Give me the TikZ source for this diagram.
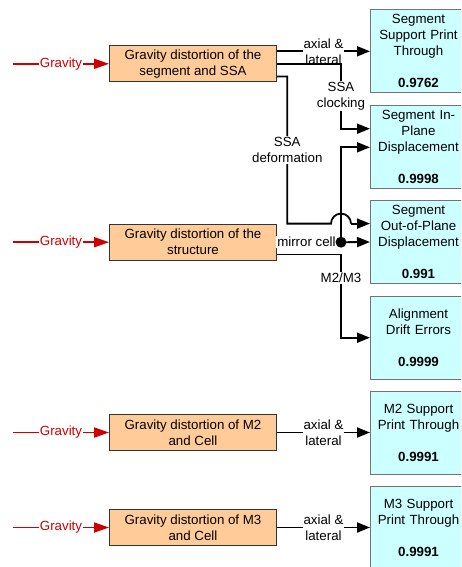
\documentclass[tikz,border=0pt]{standalone}
\usepackage{fontspec}
\setmainfont{Liberation Sans}
\usetikzlibrary{arrows.meta,calc}
\definecolor{causefill}{RGB}{255,204,153}
\definecolor{effectfill}{RGB}{204,255,255}
\definecolor{gravred}{RGB}{204,0,0}
\begin{document}
\begin{tikzpicture}[x=1pt,y=-1pt,
  txt/.style={font=\fontsize{13.3}{16}\selectfont},
  cause/.style={txt,draw=black!80,line width=1pt,fill=causefill,minimum width=167,minimum height=36,inner sep=0,align=center,anchor=north west},
  effect/.style={txt,draw=black!55,line width=1pt,fill=effectfill,minimum width=96,minimum height=83,text width=94,inner sep=0,align=center,anchor=north west},
  conn/.style={line width=1.8pt,-{Triangle[length=13pt,width=10pt]}},
  plain/.style={line width=1.8pt},
  grav/.style={gravred,line width=1.8pt,-{Triangle[length=15pt,width=10pt]}},
  lab/.style={txt,fill=white,inner sep=1pt,align=center},
  glab/.style={txt,text=gravred,fill=white,inner sep=0.5pt}]
\clip (0,0) rectangle (461,567);
\fill[white] (0,0) rectangle (461,567);
% causes
\node[cause] (c1) at (109,45.3) {Gravity distortion of the\\segment and SSA};
\node[cause] (c2) at (109,223.7) {Gravity distortion of the\\structure};
\node[cause] (c3) at (109,414) {Gravity distortion of M2\\and Cell};
\node[cause] (c4) at (109,509) {Gravity distortion of M3\\and Cell};
% effects
\node[effect] (e1) at (370,9.3) {Segment\\Support Print\\Through\\[16pt]\textbf{0.9762}};
\node[effect] (e2) at (370,105.3) {Segment In-\\Plane\\Displacement\\[16pt]\textbf{0.9998}};
\node[effect] (e3) at (370,200) {Segment\\Out-of-Plane\\Displacement\\[16pt]\textbf{0.991}};
\node[effect] (e4) at (370,295.7) {Alignment\\Drift Errors\\[16pt]\textbf{0.9999}};
\node[effect] (e5) at (370,390.7) {M2 Support\\Print Through\\[16pt]\textbf{0.9991}};
\node[effect] (e6) at (370,486) {M3 Support\\Print Through\\[16pt]\textbf{0.9991}};
% helper coordinates
\coordinate (gx) at (13,0);
\coordinate (bus) at (341,0);
\coordinate (dcol) at (287.3,0);
\coordinate (k2) at ($(e2.west)+(0,-18.6)$);
\coordinate (k3) at ($(e3.west)+(0,-18.4)$);
\coordinate (s13) at ($(c1.east)+(0,12.8)$);
\coordinate (s22) at ($(c2.east)+(0,12.3)$);
% gravity inputs
\foreach \c in {c1,c2,c3,c4}{
  \draw[grav] (\c.west -| gx) -- node[glab,pos=0.5]{Gravity} (\c.west);
}
% segment and SSA
\draw[conn] (c1.east |- e1.west) -- node[lab]{axial \&\\lateral} (e1.west);
\draw[conn] (c1.east) -- (c1.east -| bus) -- node[lab]{SSA\\clocking} (bus |- k2) -- (k2);
\draw[plain] (s13) -- (s13 -| dcol) -- node[lab]{SSA\\deformation} (dcol |- k3) -- ($(bus |- k3)+(-10,0)$)
  arc[start angle=180,end angle=360,radius=10];
\draw[conn] ($(bus |- k3)+(10,0)$) -- (k3);
% structure
\coordinate (dot) at (bus |- c2.east);
\draw[plain] (c2.east) -- node[lab,pos=0.46]{mirror cell} (dot);
\draw[conn] (dot) -- (e3.west);
\draw[conn] (dot) |- (e2.west);
\fill (dot) circle[radius=5.5];
\draw[conn] (s22) -- (s22 -| bus) -- node[lab,pos=0.28]{M2/M3} (bus |- e4.west) -- (e4.west);
% M2, M3
\draw[conn] (c3.east) -- node[lab]{axial \&\\lateral} (c3.east -| e5.west);
\draw[conn] (c4.east) -- node[lab]{axial \&\\lateral} (c4.east -| e6.west);
\end{tikzpicture}
\end{document}
